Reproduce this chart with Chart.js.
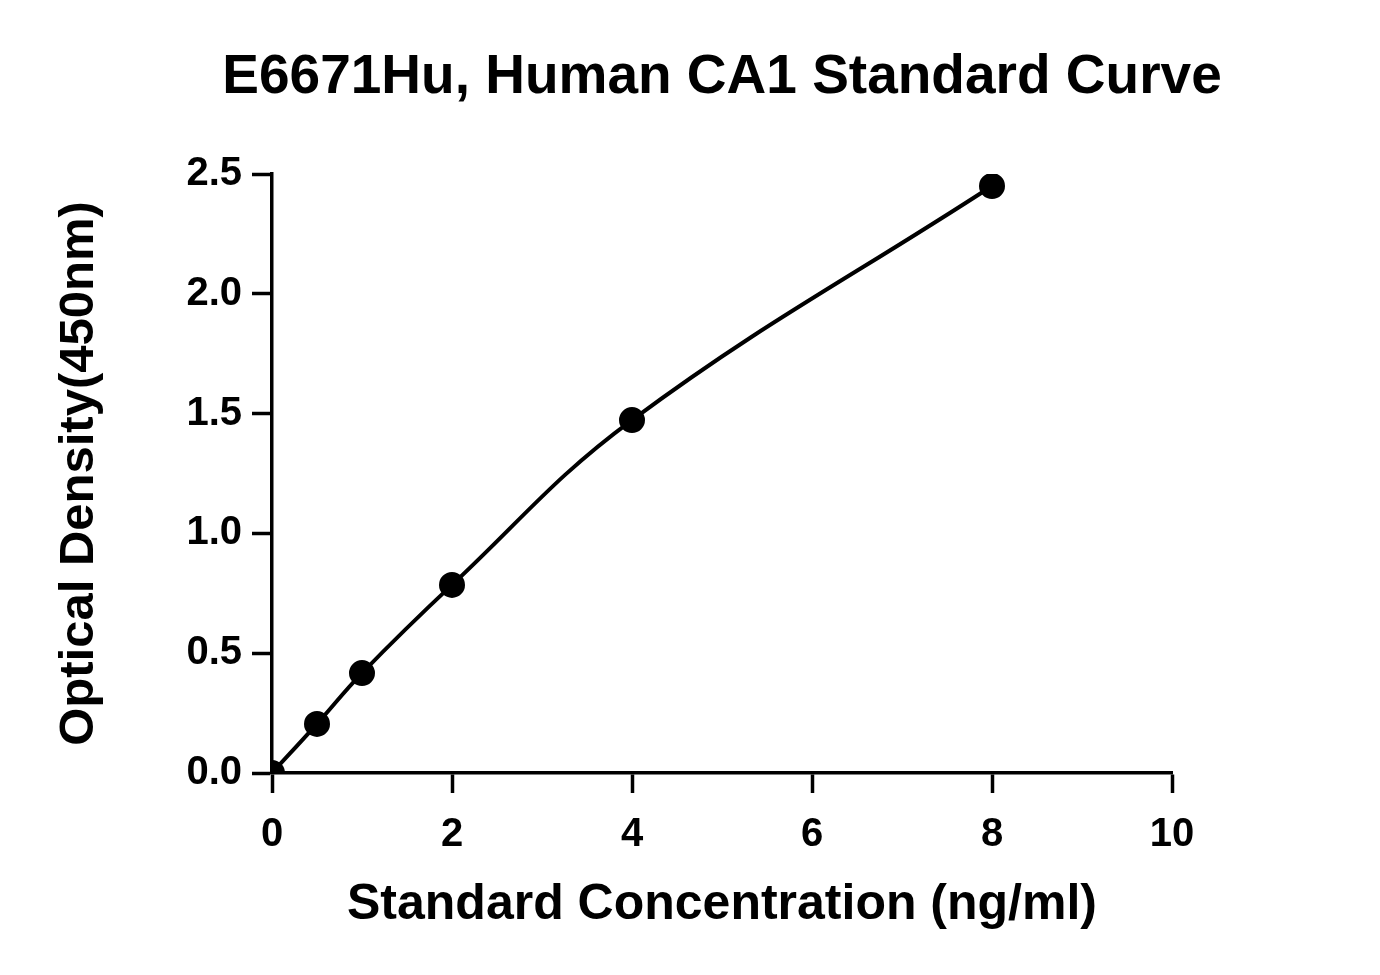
<!DOCTYPE html>
<html><head><meta charset="utf-8">
<script src="https://cdn.jsdelivr.net/npm/chart.js@4/dist/chart.umd.min.js"></script>
<style>html,body{margin:0;padding:0;background:#fff}#w{width:1380px;height:975px}</style>
</head><body><div id="w"><canvas id="c"></canvas></div>
<script>
const concentrations = [0, 0.5, 1, 2, 4, 8];
const odValues = [0.0, 0.205, 0.417, 0.785, 1.473, 2.45];
const xTicks = [0, 2, 4, 6, 8, 10];
const yTicks = [0, 0.5, 1, 1.5, 2, 2.5];
const chartTitle = 'E6671Hu, Human CA1 Standard Curve';
const F = '"Liberation Sans", Arial, sans-serif';
const titlePlugin = {
  id: 'pageTitle',
  afterDraw(chart) {
    const ctx = chart.ctx;
    ctx.save();
    ctx.fillStyle = '#000';
    ctx.font = 'bold 55px ' + F;
    ctx.textAlign = 'center';
    ctx.textBaseline = 'middle';
    ctx.fillText(chartTitle, 722, 78);
    ctx.restore();
  }
};
new Chart(document.getElementById('c'), {
  type: 'scatter',
  data: { datasets: [{
    data: concentrations.map((x, i) => ({x, y: odValues[i]})),
    showLine: true, tension: 0.4,
    borderColor: '#000', borderWidth: 4,
    pointRadius: 11, pointBackgroundColor: '#000', pointBorderColor: '#000'
  }]},
  options: {
    responsive: true, maintainAspectRatio: false, animation: false,
    layout: { padding: { left: 50, right: 208, top: 174, bottom: 40 } },
    plugins: { legend: { display: false }, tooltip: { enabled: false }, title: { display: false } },
    scales: {
      x: { type: 'linear', min: 0, max: 10,
        afterBuildTicks: a => { a.ticks = xTicks.map(v => ({value: v})); },
        afterFit: a => { a.height = 975 - 773 - 40; },
        grid: { display: true, drawOnChartArea: false, tickLength: 20, tickWidth: 3.5, tickColor: '#000' },
        border: { display: true, color: '#000', width: 3.5 },
        ticks: { color: '#000', font: { family: F, size: 40, weight: 'bold' }, padding: 18, maxRotation: 0 },
        title: { display: true, text: 'Standard Concentration (ng/ml)', color: '#000',
          font: { family: F, size: 50, weight: 'bold' }, padding: { top: 0, bottom: 0 } }
      },
      y: { type: 'linear', min: 0, max: 2.5,
        afterBuildTicks: a => { a.ticks = yTicks.map(v => ({value: v})); },
        afterFit: a => { a.width = 272 - 50; },
        grid: { display: true, drawOnChartArea: false, tickLength: 20, tickWidth: 3.5, tickColor: '#000' },
        border: { display: true, color: '#000', width: 3.5 },
        ticks: { color: '#000', font: { family: F, size: 40, weight: 'bold' }, padding: 10,
          callback: v => v.toFixed(1) },
        title: { display: true, text: 'Optical Density(450nm)', color: '#000',
          font: { family: F, size: 49, weight: 'bold' }, padding: { top: 0, bottom: 0 } }
      }
    }
  },
  plugins: [titlePlugin]
});
</script></body></html>
